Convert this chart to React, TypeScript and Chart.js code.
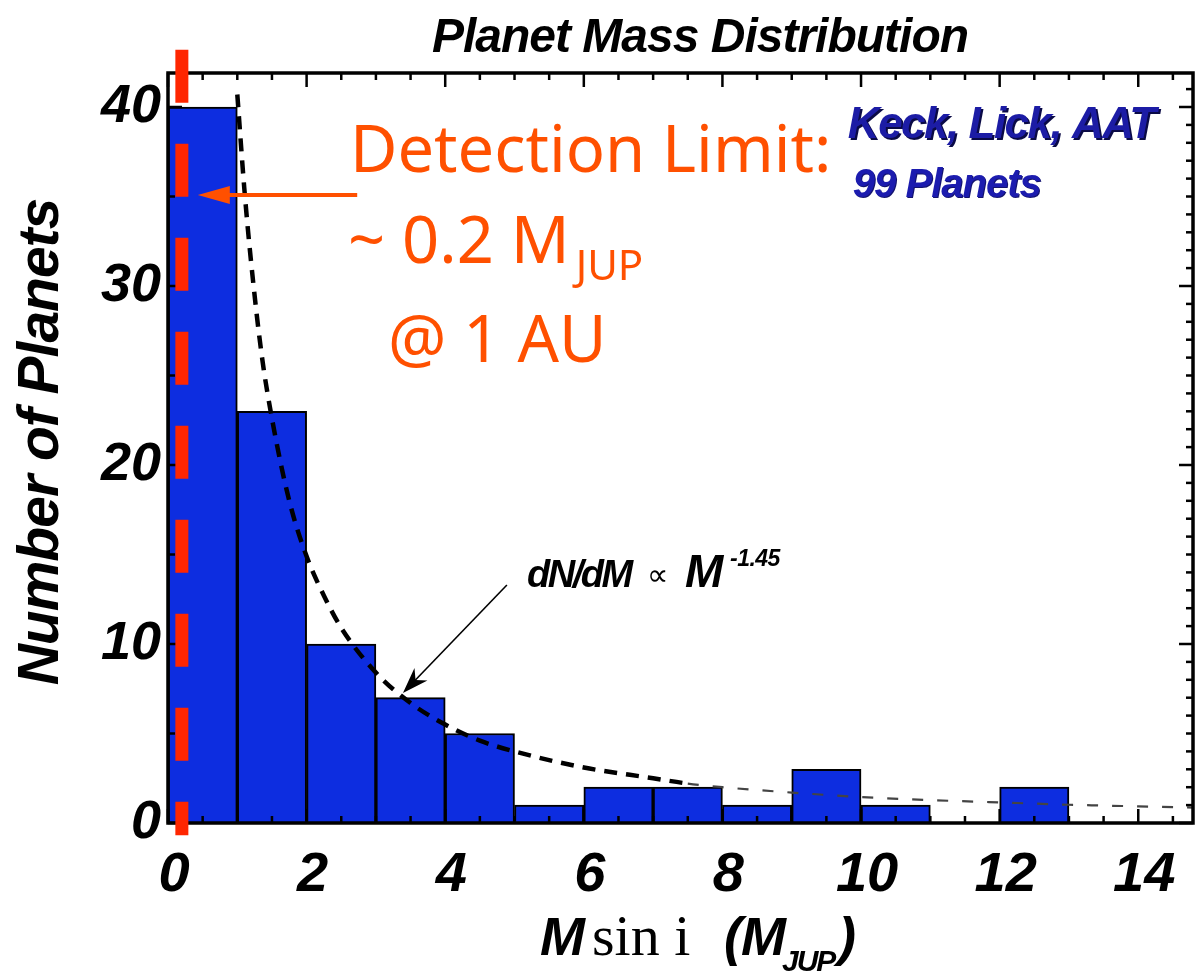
import React, { useEffect, useRef } from "react";
import { Chart, registerables } from "chart.js";

Chart.register(...registerables);

// ---- data ----
const binCenters = [0.5, 1.5, 2.5, 3.5, 4.5, 5.5, 6.5, 7.5, 8.5, 9.5, 10.5, 11.5, 12.5, 13.5];
const binCounts = [40, 23, 10, 7, 5, 1, 2, 2, 1, 3, 1, 0, 2, 0];

// dashed power-law curve dN/dM ∝ M^-1.45
const curveMass = [1.0, 1.1, 1.2, 1.35, 1.5, 1.75, 2.0, 2.25, 2.5, 3.0, 3.5, 4.0, 4.5, 5.0, 6.0, 7.0, 7.5, 8.0, 9.0, 10.0, 11.0, 12.0, 13.0, 14.0, 14.8];
const curveCount = [40.7, 35.5, 31.3, 26.2, 22.6, 18.0, 14.9, 12.7, 10.9, 8.4, 6.7, 5.5, 4.6, 4.0, 3.1, 2.5, 2.2, 2.0, 1.7, 1.45, 1.28, 1.15, 1.02, 0.93, 0.86];

const xTickValues = [0, 2, 4, 6, 8, 10, 12, 14];
const yTickValues = [0, 10, 20, 30, 40];

const X_MIN = 0;
const X_MAX = 14.79;
const Y_MIN = 0;
const Y_MAX = 41.9;

const detectionLimitMass = 0.2;

const SANS = '"Liberation Sans", Arial, Helvetica, sans-serif';
const SERIF = '"Liberation Serif", "Times New Roman", serif';
const NOTO = '"Noto Sans", "DejaVu Sans", sans-serif';

const ORANGE = "rgb(255,80,0)";
const RED = "rgb(255,38,0)";
const BAR_BLUE = "#0d2de0";

function drawArrow(
  ctx: CanvasRenderingContext2D,
  x1: number, y1: number, x2: number, y2: number,
  headLen: number, headHalf: number, notch: number,
  color: string, lw: number
) {
  const ang = Math.atan2(y2 - y1, x2 - x1);
  const cos = Math.cos(ang), sin = Math.sin(ang);
  ctx.save();
  ctx.strokeStyle = color;
  ctx.fillStyle = color;
  ctx.lineWidth = lw;
  ctx.setLineDash([]);
  ctx.beginPath();
  ctx.moveTo(x1, y1);
  ctx.lineTo(x2 - cos * headLen * 0.6, y2 - sin * headLen * 0.6);
  ctx.stroke();
  const bx = x2 - cos * headLen, by = y2 - sin * headLen;
  const nx = x2 - cos * headLen * notch, ny = y2 - sin * headLen * notch;
  ctx.beginPath();
  ctx.moveTo(x2, y2);
  ctx.lineTo(bx - sin * headHalf, by + cos * headHalf);
  ctx.lineTo(nx, ny);
  ctx.lineTo(bx + sin * headHalf, by - cos * headHalf);
  ctx.closePath();
  ctx.fill();
  ctx.restore();
}

const overlayPlugin = {
  id: "overlay",
  afterDatasetsDraw(chart: any) {
    const ctx: CanvasRenderingContext2D = chart.ctx;
    const { left, right, top, bottom } = chart.chartArea;
    const xs = chart.scales.x;
    const ys = chart.scales.y;
    ctx.save();
    ctx.strokeStyle = "#000";
    ctx.setLineDash([]);
    // frame
    ctx.lineWidth = 3.5;
    ctx.strokeRect(left, top, right - left, bottom - top);
    // x ticks (inward, top and bottom)
    ctx.lineWidth = 2.5;
    for (let i = 0; i <= 29; i++) {
      const v = i * 0.5;
      if (v > X_MAX) break;
      const px = xs.getPixelForValue(v);
      const len = i % 4 === 0 ? 14 : 7;
      ctx.beginPath();
      ctx.moveTo(px, bottom);
      ctx.lineTo(px, bottom - len);
      ctx.moveTo(px, top);
      ctx.lineTo(px, top + len);
      ctx.stroke();
    }
    // y ticks: left every 5, right every 1
    for (let v = 0; v <= 41; v++) {
      const py = ys.getPixelForValue(v);
      const major = v % 10 === 0;
      ctx.beginPath();
      ctx.moveTo(right, py);
      ctx.lineTo(right - (major ? 14 : 7), py);
      if (v % 5 === 0) {
        ctx.moveTo(left, py);
        ctx.lineTo(left + (major ? 14 : 7), py);
      }
      ctx.stroke();
    }
    ctx.restore();
  },
  afterDraw(chart: any) {
    const ctx: CanvasRenderingContext2D = chart.ctx;
    const xs = chart.scales.x;
    const ys = chart.scales.y;
    const X = (v: number) => xs.getPixelForValue(v);
    const Y = (v: number) => ys.getPixelForValue(v);
    ctx.save();
    ctx.textBaseline = "alphabetic";
    ctx.fillStyle = "#000";

    // Title
    ctx.font = `italic bold 48px ${SANS}`;
    (ctx as any).letterSpacing = "-1px";
    ctx.textAlign = "center";
    ctx.fillText("Planet Mass Distribution", 700, 52);

    // Y axis title
    ctx.save();
    ctx.font = `italic bold 57px ${SANS}`;
    (ctx as any).letterSpacing = "-1px";
    ctx.translate(58, 442);
    ctx.rotate(-Math.PI / 2);
    ctx.textAlign = "center";
    ctx.fillText("Number of Planets", 0, 0);
    ctx.restore();

    // X axis title: M sin i (M_JUP)
    (ctx as any).letterSpacing = "0px";
    ctx.textAlign = "left";
    ctx.font = `italic bold 54px ${SANS}`;
    ctx.fillText("M", 540, 955);
    ctx.font = `58px ${SERIF}`;
    ctx.fillText("sin i", 592, 955);
    ctx.font = `italic bold 54px ${SANS}`;
    (ctx as any).letterSpacing = "-1px";
    ctx.fillText("(M", 724, 955);
    ctx.font = `italic bold 30px ${SANS}`;
    (ctx as any).letterSpacing = "-2px";
    ctx.fillText("JUP", 782, 971);
    ctx.font = `italic bold 54px ${SANS}`;
    (ctx as any).letterSpacing = "0px";
    ctx.fillText(")", 838, 955);

    // Keck, Lick, AAT / 99 Planets
    const kx = X(9.81), ky = Y(38.27);
    ctx.font = `italic bold 44px ${SANS}`;
    (ctx as any).letterSpacing = "-1.5px";
    ctx.fillStyle = "rgb(10,10,70)";
    ctx.fillText("Keck, Lick, AAT", kx + 2, ky + 2);
    ctx.fillStyle = "rgb(28,28,165)";
    ctx.fillText("Keck, Lick, AAT", kx, ky);
    ctx.font = `italic bold 40px ${SANS}`;
    (ctx as any).letterSpacing = "-1px";
    ctx.fillStyle = "rgb(20,20,110)";
    ctx.fillText("99 Planets", kx + 6, ky + 60);
    ctx.fillStyle = "rgb(28,28,175)";
    ctx.fillText("99 Planets", kx + 5, ky + 59);

    // dN/dM ∝ M^-1.45 label
    const ax = X(5.18), ay = Y(13.18);
    ctx.fillStyle = "#000";
    ctx.font = `italic bold 38px ${SANS}`;
    (ctx as any).letterSpacing = "-2.5px";
    ctx.fillText("dN/dM", ax, ay);
    (ctx as any).letterSpacing = "0px";
    ctx.font = `30px "DejaVu Sans", sans-serif`;
    ctx.fillText("\u221D", ax + 120, ay - 2);
    ctx.font = `italic bold 46px ${SANS}`;
    ctx.fillText("M", ax + 158, ay);
    ctx.font = `italic bold 23px ${SANS}`;
    (ctx as any).letterSpacing = "-0.5px";
    ctx.fillText("-1.45", ax + 203, ay - 21);
    (ctx as any).letterSpacing = "0px";
    drawArrow(ctx, X(4.89), Y(13.3), X(3.39), Y(7.26), 26, 9, 0.7, "#000", 1.6);

    // red dashed detection-limit line
    ctx.save();
    ctx.strokeStyle = RED;
    ctx.lineWidth = 13;
    ctx.lineCap = "butt";
    ctx.setLineDash([53, 41]);
    ctx.beginPath();
    ctx.moveTo(X(detectionLimitMass), Y(43.2));
    ctx.lineTo(X(detectionLimitMass), Y(-0.68));
    ctx.stroke();
    ctx.restore();

    // orange arrow + text
    drawArrow(ctx, X(2.73), Y(35.08), X(0.43), Y(35.08), 32, 9, 1.0, ORANGE, 4);
    const tx = X(2.626), ty = Y(36.37);
    ctx.fillStyle = ORANGE;
    ctx.font = `65px ${NOTO}`;
    ctx.fillText("Detection Limit:", tx, ty);
    ctx.fillText("~ 0.2 M", tx - 2, ty + 91);
    const w = ctx.measureText("~ 0.2 M").width;
    ctx.font = `42px ${NOTO}`;
    ctx.fillText("JUP", tx - 2 + w + 6, ty + 108);
    ctx.font = `65px ${NOTO}`;
    ctx.fillText("@ 1 AU", tx + 38, ty + 190);

    ctx.restore();
  },
};

export default function App() {
  const canvasRef = useRef<HTMLCanvasElement | null>(null);

  useEffect(() => {
    if (!canvasRef.current) return;
    const tickFont = (size: number) => ({ family: SANS, size, style: "italic" as const, weight: "bold" as const });
    const chart = new Chart(canvasRef.current, {
      type: "bar",
      data: {
        datasets: [
          {
            type: "line",
            data: curveMass.map((m, i) => ({ x: m, y: curveCount[i] })),
            borderColor: "#000",
            borderWidth: 4.5,
            borderDash: [13, 9],
            pointRadius: 0,
            fill: false,
            cubicInterpolationMode: "monotone",
            order: 0,
            segment: {
              borderWidth: (c: any) => (c.p0.parsed.x >= 7.5 ? 2.2 : 4.5),
              borderDash: (c: any) => (c.p0.parsed.x >= 7.5 ? [11, 14] : [13, 9]),
              borderColor: (c: any) => (c.p0.parsed.x >= 7.5 ? "#444" : "#000"),
            },
          } as any,
          {
            type: "bar",
            data: binCenters.map((c, i) => ({ x: c, y: binCounts[i] })),
            backgroundColor: BAR_BLUE,
            borderColor: "#000",
            borderWidth: 2,
            barPercentage: 1,
            categoryPercentage: 1,
            order: 1,
          } as any,
        ],
      },
      options: {
        responsive: false,
        animation: false,
        devicePixelRatio: 1,
        layout: { padding: { top: 73, right: 8, left: 0, bottom: 0 } },
        plugins: {
          legend: { display: false },
          tooltip: { enabled: false },
          title: { display: false },
        },
        scales: {
          x: {
            type: "linear",
            min: X_MIN,
            max: X_MAX,
            offset: false,
            grid: { display: false, drawTicks: false },
            border: { display: false },
            ticks: {
              font: tickFont(56),
              color: "#000",
              padding: 19,
              labelOffset: 6,
              maxRotation: 0,
              autoSkip: false,
              includeBounds: false,
              callback: (v: any) => String(v),
            },
            afterBuildTicks: (s: any) => {
              s.ticks = xTickValues.map((v) => ({ value: v }));
            },
            afterFit: (s: any) => {
              s.height = 150;
            },
          },
          y: {
            type: "linear",
            min: Y_MIN,
            max: Y_MAX,
            grid: { display: false, drawTicks: false },
            border: { display: false },
            ticks: {
              font: tickFont(54),
              color: "#000",
              padding: 7,
              autoSkip: false,
              includeBounds: false,
              callback: (v: any) => String(v),
            },
            afterBuildTicks: (s: any) => {
              s.ticks = yTickValues.map((v) => ({ value: v }));
            },
            afterFit: (s: any) => {
              s.width = 168;
            },
          },
        },
      } as any,
      plugins: [overlayPlugin as any],
    });
    return () => chart.destroy();
  }, []);

  return (
    <div style={{ position: "absolute", left: 0, top: 0, width: 1201, height: 973, background: "#fff" }}>
      <canvas ref={canvasRef} width={1201} height={973} style={{ display: "block" }} />
    </div>
  );
}
